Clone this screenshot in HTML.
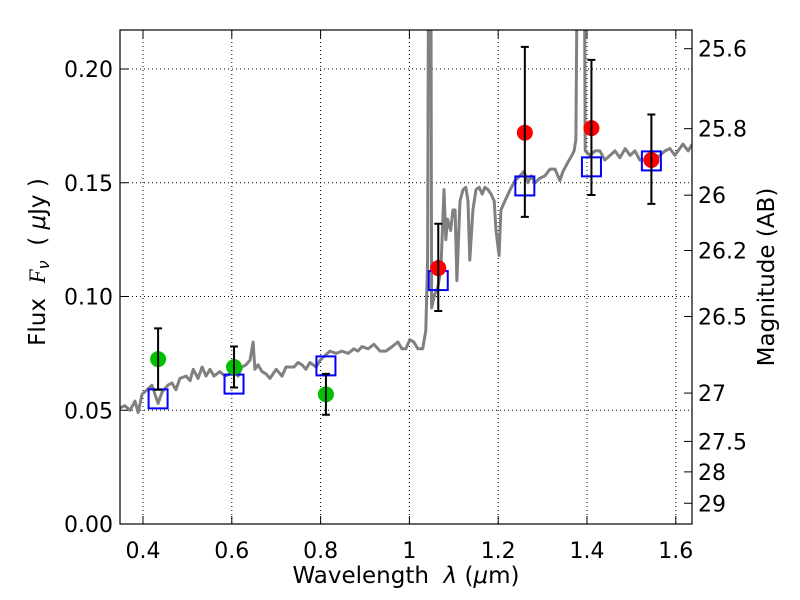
<!DOCTYPE html>
<html><head><meta charset="utf-8"><style>
body{margin:0;background:#fff}
svg{display:block;font-family:"DejaVu Sans","Liberation Sans",sans-serif}
</style></head><body>
<svg id="chart" width="800" height="600" viewBox="0 0 800 600" xmlns="http://www.w3.org/2000/svg">
<defs><clipPath id="clip"><rect x="120" y="30" width="572" height="494"/></clipPath></defs>
<rect x="0" y="0" width="800" height="600" fill="#fff"/>
<g id="grid"></g>
<g id="spec" clip-path="url(#clip)"></g>
<g id="marks" clip-path="url(#clip)"></g>
<rect x="120" y="30" width="572" height="494" fill="none" stroke="#000" stroke-width="1.2"/>
<g id="axes"></g>
<text x="406" y="583" font-size="23" text-anchor="middle">Wavelength&#160;&#160;<tspan font-style="italic">λ</tspan>&#160;(<tspan font-style="italic">μ</tspan>m)</text>
<text transform="translate(45,262) rotate(-90)" font-size="23" text-anchor="middle">Flux&#160;&#160;<tspan font-style="italic" font-family="Liberation Serif">F</tspan><tspan font-style="italic" font-size="16" dy="4">ν</tspan><tspan dy="-4">&#160;&#160;(&#160;</tspan><tspan font-style="italic">μ</tspan>Jy&#160;)</text>
<text transform="translate(774,277) rotate(-90)" font-size="23" text-anchor="middle">Magnitude (AB)</text>
</svg>
<script>
const xTicks=[0.4,0.6,0.8,1.0,1.2,1.4,1.6];
const xTickLabels=["0.4","0.6","0.8","1","1.2","1.4","1.6"];
const yTicks=[0,0.05,0.10,0.15,0.20];
const yTickLabels=["0.00","0.05","0.10","0.15","0.20"];
const magTicks=[25.6,25.8,26,26.2,26.5,27,27.5,28,29];
const magTickLabels=["25.6","25.8","26","26.2","26.5","27","27.5","28","29"];
const specWave=[0.348,0.359,0.371,0.382,0.389,0.398,0.409,0.420,0.427,0.434,0.443,0.456,0.465,0.474,0.483,0.497,0.506,0.513,0.524,0.533,0.542,0.551,0.560,0.573,0.585,0.596,0.605,0.614,0.623,0.632,0.641,0.648,0.652,0.659,0.668,0.677,0.686,0.700,0.713,0.722,0.731,0.740,0.749,0.758,0.767,0.776,0.790,0.799,0.810,0.821,0.835,0.848,0.862,0.875,0.884,0.893,0.907,0.920,0.934,0.947,0.961,0.974,0.983,0.992,1.001,1.010,1.019,1.030,1.037,1.041,1.044,1.048,1.050,1.057,1.064,1.071,1.078,1.082,1.086,1.093,1.098,1.103,1.107,1.114,1.121,1.127,1.132,1.136,1.143,1.150,1.157,1.164,1.170,1.177,1.184,1.191,1.195,1.202,1.206,1.215,1.227,1.238,1.249,1.258,1.267,1.274,1.283,1.294,1.305,1.317,1.328,1.339,1.346,1.357,1.366,1.371,1.375,1.380,1.393,1.396,1.407,1.418,1.429,1.440,1.452,1.463,1.474,1.486,1.497,1.508,1.519,1.531,1.542,1.553,1.564,1.576,1.587,1.598,1.605,1.616,1.628,1.637];
const specFlux=[0.051,0.052,0.050,0.054,0.049,0.057,0.059,0.061,0.057,0.053,0.058,0.061,0.062,0.059,0.064,0.065,0.063,0.068,0.064,0.069,0.065,0.068,0.065,0.067,0.065,0.066,0.068,0.065,0.069,0.070,0.072,0.080,0.068,0.070,0.067,0.066,0.064,0.068,0.065,0.069,0.069,0.069,0.071,0.070,0.068,0.071,0.069,0.072,0.074,0.076,0.075,0.076,0.075,0.077,0.076,0.078,0.077,0.079,0.076,0.076,0.078,0.080,0.077,0.077,0.081,0.080,0.077,0.077,0.085,0.116,0.300,0.300,0.095,0.101,0.104,0.112,0.147,0.125,0.134,0.129,0.138,0.138,0.107,0.142,0.147,0.148,0.142,0.116,0.138,0.147,0.148,0.145,0.148,0.147,0.145,0.142,0.129,0.118,0.138,0.142,0.147,0.151,0.153,0.155,0.150,0.153,0.150,0.152,0.153,0.156,0.156,0.151,0.155,0.159,0.162,0.164,0.169,0.300,0.300,0.164,0.162,0.164,0.164,0.160,0.162,0.164,0.161,0.165,0.162,0.164,0.160,0.160,0.161,0.160,0.162,0.164,0.165,0.162,0.164,0.167,0.164,0.167];
const obsWave=[0.434,0.605,0.812,1.065,1.26,1.41,1.545];
const obsFlux=[0.0725,0.069,0.057,0.1125,0.172,0.174,0.160];
const obsErrHi=[0.086,0.078,0.066,0.132,0.2097,0.204,0.180];
const obsErrLo=[0.059,0.060,0.048,0.0936,0.135,0.1446,0.1407];
const obsColor=["#00c000","#00c000","#00c000","#ff0000","#ff0000","#ff0000","#ff0000"];
const modelFlux=[0.055,0.0615,0.0695,0.107,0.1486,0.157,0.1596];

const NS="http://www.w3.org/2000/svg";
const X=v=>143+(v-0.4)*444;
const Y=v=>524-v*2275;
const magY=m=>Y(Math.pow(10,(23.9-m)/2.5));
function mk(parent,tag,attrs){const e=document.createElementNS(NS,tag);for(const k in attrs)e.setAttribute(k,attrs[k]);document.getElementById(parent).appendChild(e);return e;}
xTicks.forEach((v,i)=>{
 const g=mk('grid','line',{x1:X(v),x2:X(v),y1:30,y2:524,stroke:'#000','stroke-width':1,'stroke-dasharray':'1,3'});
 
 const t=mk('axes','line',{x1:X(v),x2:X(v),y1:524,y2:516,stroke:'#000'});
 
 const t2=mk('axes','line',{x1:X(v),x2:X(v),y1:30,y2:38,stroke:'#000'});
 
 const l=mk('axes','text',{x:X(v),y:558,'font-size':22,'text-anchor':'middle'});l.textContent=xTickLabels[i];
 
});
yTicks.forEach((v,i)=>{
 const g=mk('grid','line',{x1:120,x2:692,y1:Y(v),y2:Y(v),stroke:'#000','stroke-width':1,'stroke-dasharray':'1,3'});
 
 const t=mk('axes','line',{x1:120,x2:128,y1:Y(v),y2:Y(v),stroke:'#000'});
 
 const l=mk('axes','text',{x:113,y:Y(v)+8,'font-size':22,'text-anchor':'end'});l.textContent=yTickLabels[i];
 
});
magTicks.forEach((m,i)=>{
 const t=mk('axes','line',{x1:684,x2:692,y1:magY(m),y2:magY(m),stroke:'#000'});
 
 const l=mk('axes','text',{x:698,y:magY(m)+8,'font-size':22,'text-anchor':'start'});l.textContent=magTickLabels[i];
 
});
const pts=specWave.map((w,i)=>X(w).toFixed(1)+','+Y(specFlux[i]).toFixed(1)).join(' ');
const pl=mk('spec','polyline',{points:pts,fill:'none',stroke:'#808080','stroke-width':3,'stroke-linejoin':'round'});

obsWave.forEach((w,i)=>{
 const x=X(w);
 const sq=mk('marks','rect',{x:x-9.5,y:Y(modelFlux[i])-9.5,width:19,height:19,fill:'none',stroke:'#0000ff','stroke-width':2});
 
 const c=mk('marks','circle',{cx:x,cy:Y(obsFlux[i]),r:8,fill:obsColor[i]});
 
 const e=mk('marks','path',{d:`M${x},${Y(obsErrHi[i])}V${Y(obsErrLo[i])}M${x-4},${Y(obsErrHi[i])}h8M${x-4},${Y(obsErrLo[i])}h8`,stroke:'#000','stroke-width':2,fill:'none'});
 
});
</script>
</body></html>
